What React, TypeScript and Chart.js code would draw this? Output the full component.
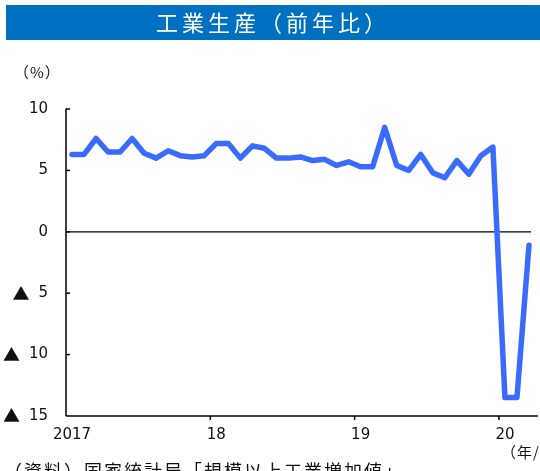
import React, { useEffect, useRef } from "react";
import { Chart, registerables } from "chart.js";

Chart.register(...registerables);

// Monthly periods, 2017/1 – 2020/3 (Jan and Feb share the combined Jan–Feb figure)
const periods: string[] = [
  "2017/1", "2017/2", "2017/3", "2017/4", "2017/5", "2017/6", "2017/7", "2017/8", "2017/9", "2017/10", "2017/11", "2017/12",
  "2018/1", "2018/2", "2018/3", "2018/4", "2018/5", "2018/6", "2018/7", "2018/8", "2018/9", "2018/10", "2018/11", "2018/12",
  "2019/1", "2019/2", "2019/3", "2019/4", "2019/5", "2019/6", "2019/7", "2019/8", "2019/9", "2019/10", "2019/11", "2019/12",
  "2020/1", "2020/2", "2020/3",
];

// Industrial production, year-on-year (%)
const industrialOutput: number[] = [
  6.3, 6.3, 7.6, 6.5, 6.5, 7.6, 6.4, 6.0, 6.6, 6.2, 6.1, 6.2,
  7.2, 7.2, 6.0, 7.0, 6.8, 6.0, 6.0, 6.1, 5.8, 5.9, 5.4, 5.7,
  5.3, 5.3, 8.5, 5.4, 5.0, 6.3, 4.8, 4.4, 5.8, 4.7, 6.2, 6.9,
  -13.5, -13.5, -1.1,
];

// Year labels shown under each January
const yearLabels: Record<string, string> = {
  "2017/1": "2017",
  "2018/1": "18",
  "2019/1": "19",
  "2020/1": "20",
};

const yTicks: number[] = [10, 5, 0, -5, -10, -15];
const NEG_MARK = "▲";

const TITLE = "工業生産（前年比）";
const UNIT_Y = "（%）";
const UNIT_X = "（年/月）";
const SOURCE = "（資料）国家統計局「規模以上工業増加値」";

const JP_FONT = '"Noto Sans CJK JP", "Noto Sans", sans-serif';
const NUM_FONT = '"DejaVu Sans", "Noto Sans CJK JP", sans-serif';

const decorations = {
  id: "decorations",
  beforeDraw(chart: any) {
    const { ctx, width, height } = chart;
    ctx.save();
    ctx.fillStyle = "#ffffff";
    ctx.fillRect(0, 0, width, height);
    ctx.restore();
  },
  beforeDatasetsDraw(chart: any) {
    const { ctx, chartArea } = chart;
    const x = chart.scales.x;
    const y = chart.scales.y;
    ctx.save();
    ctx.strokeStyle = "#000000";
    ctx.lineWidth = 1.5;
    ctx.lineCap = "butt";

    // vertical axis
    ctx.beginPath();
    ctx.moveTo(chartArea.left, y.getPixelForValue(10) - 0.5);
    ctx.lineTo(chartArea.left, chartArea.bottom);
    ctx.stroke();

    // inward tick marks on the vertical axis, and their labels
    y.ticks.forEach((t: any) => {
      const v = t.value;
      const py = y.getPixelForValue(v);
      if (v !== -15) {
        ctx.beginPath();
        ctx.moveTo(chartArea.left, py);
        ctx.lineTo(chartArea.left + 4, py);
        ctx.stroke();
      }
      const num = String(Math.abs(v));
      ctx.fillStyle = "#111111";
      ctx.textBaseline = "middle";
      ctx.textAlign = "right";
      ctx.font = `15px ${NUM_FONT}`;
      const numRight = chartArea.left - 18;
      ctx.fillText(num, numRight, py);
      if (v < 0) {
        const w = ctx.measureText(num).width;
        ctx.font = `17px ${JP_FONT}`;
        ctx.fillText(NEG_MARK, numRight - w - 9, py);
      }
    });

    // horizontal axis
    ctx.beginPath();
    ctx.moveTo(chartArea.left, chartArea.bottom);
    ctx.lineTo(chartArea.right + 3, chartArea.bottom);
    ctx.stroke();

    // zero line
    ctx.lineWidth = 1.2;
    const zy = y.getPixelForValue(0);
    ctx.beginPath();
    ctx.moveTo(chartArea.left, zy);
    ctx.lineTo(chartArea.right - 4, zy);
    ctx.stroke();

    // year boundary tick marks, pointing down
    ctx.lineWidth = 1.5;
    periods.forEach((p, i) => {
      if (i === 0 || !yearLabels[p]) return;
      const px = (x.getPixelForValue(i) + x.getPixelForValue(i - 1)) / 2;
      ctx.beginPath();
      ctx.moveTo(px, chartArea.bottom);
      ctx.lineTo(px, chartArea.bottom + 4);
      ctx.stroke();
    });
    ctx.restore();
  },
  afterDraw(chart: any) {
    const { ctx } = chart;
    ctx.save();

    // title bar
    ctx.fillStyle = "#0070C0";
    ctx.fillRect(6, 5, 540, 35);
    ctx.fillStyle = "#ffffff";
    ctx.font = `22px ${JP_FONT}`;
    ctx.textAlign = "center";
    ctx.textBaseline = "middle";
    (ctx as any).letterSpacing = "4px";
    ctx.fillText(TITLE, 273, 23);
    (ctx as any).letterSpacing = "0px";

    // unit labels
    ctx.fillStyle = "#111111";
    ctx.font = `15px ${JP_FONT}`;
    ctx.textAlign = "left";
    ctx.textBaseline = "middle";
    (ctx as any).letterSpacing = "1px";
    ctx.fillText(UNIT_Y, 14, 72);
    ctx.fillText(UNIT_X, 501, 452);

    // source note
    (ctx as any).letterSpacing = "2px";
    ctx.font = `18px ${JP_FONT}`;
    ctx.textBaseline = "top";
    ctx.fillText(SOURCE, 4, 462);
    ctx.restore();
  },
};

export default function App() {
  const canvasRef = useRef<HTMLCanvasElement | null>(null);

  useEffect(() => {
    if (!canvasRef.current) return;
    const chart = new Chart(canvasRef.current, {
      type: "line",
      data: {
        labels: periods,
        datasets: [
          {
            data: industrialOutput,
            borderColor: "#3A6BFF",
            borderWidth: 5.5,
            pointRadius: 0,
            tension: 0,
            borderJoinStyle: "round",
            borderCapStyle: "round",
            fill: false,
          },
        ],
      },
      options: {
        animation: false,
        responsive: false,
        layout: { padding: { top: 109, right: 5, left: 0, bottom: 0 } },
        plugins: {
          legend: { display: false },
          tooltip: { enabled: false },
          title: { display: false },
        },
        scales: {
          x: {
            type: "category",
            offset: true,
            grid: { display: false, drawTicks: false },
            border: { display: false },
            ticks: {
              autoSkip: false,
              maxRotation: 0,
              minRotation: 0,
              padding: 10,
              color: "#111111",
              font: { family: NUM_FONT, size: 15 },
              callback: (_v: any, i: number) => yearLabels[periods[i]] ?? "",
            },
            afterFit: (scale: any) => {
              scale.height = 55;
            },
          },
          y: {
            min: yTicks[yTicks.length - 1],
            max: yTicks[0],
            grid: { display: false, drawTicks: false },
            border: { display: false },
            ticks: {
              stepSize: 5,
              display: false,
            },
            afterFit: (scale: any) => {
              scale.width = 66;
            },
          },
        },
      },
      plugins: [decorations],
    });
    return () => chart.destroy();
  }, []);

  return (
    <div style={{ position: "fixed", left: 0, top: 0, width: 540, height: 471, background: "#fff" }}>
      <canvas ref={canvasRef} width={540} height={471} style={{ display: "block" }} />
    </div>
  );
}
